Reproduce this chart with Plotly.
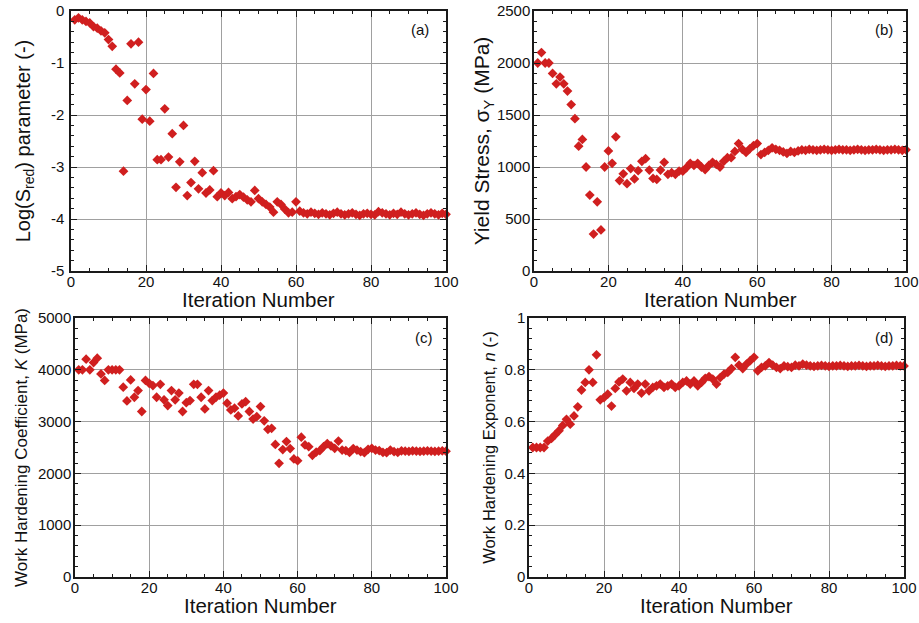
import plotly.graph_objects as go
from plotly.subplots import make_subplots

iterations = list(range(1, 101))

log_s_red = [
    -0.17, -0.13, -0.17, -0.20, -0.23, -0.30, -0.33, -0.38, -0.42, -0.55,
    -0.68, -1.12, -1.19, -3.08, -1.72, -0.63, -1.40, -0.60, -2.08, -1.51,
    -2.12, -1.20, -2.86, -2.86, -1.88, -2.81, -2.36, -3.39, -2.90, -2.20,
    -3.55, -3.30, -2.89, -3.42, -3.11, -3.50, -3.44, -3.07, -3.57, -3.50,
    -3.55, -3.49, -3.61, -3.57, -3.53, -3.58, -3.63, -3.67, -3.45, -3.61,
    -3.67, -3.72, -3.77, -3.87, -3.67, -3.72, -3.81, -3.88, -3.87, -3.67,
    -3.85, -3.88, -3.90, -3.87, -3.89, -3.91, -3.88, -3.90, -3.92, -3.89,
    -3.87, -3.90, -3.92, -3.90, -3.88, -3.91, -3.93, -3.90, -3.89, -3.91,
    -3.92, -3.86, -3.88, -3.90, -3.92, -3.89, -3.91, -3.87, -3.90, -3.92,
    -3.90, -3.88, -3.91, -3.93, -3.90, -3.88, -3.90, -3.92, -3.89, -3.91,
]

yield_stress = [
    2000, 2100, 2000, 2000, 1900, 1800, 1865, 1800, 1730, 1600,
    1465, 1200, 1265, 1000, 730, 355, 665, 395, 1000, 1155,
    1035, 1290, 870, 935, 840, 985, 885, 965, 1055, 1080,
    970, 890, 880, 970, 1045, 930, 945, 930, 960, 960,
    995, 1035, 1015, 1035, 1000, 975, 1015, 1045, 1025, 1000,
    1055, 1090, 1090, 1150, 1225, 1170, 1140, 1175, 1205, 1225,
    1120, 1140, 1160, 1185, 1170, 1160, 1145, 1130, 1150, 1140,
    1155, 1165, 1160, 1170, 1165, 1160, 1165, 1170, 1165, 1160,
    1165, 1170, 1165, 1165, 1160, 1165, 1170, 1165, 1160, 1165,
    1165, 1170, 1165, 1160, 1165, 1165, 1170, 1165, 1160, 1165,
]

k_coeff = [
    4000, 4000, 4205, 4000, 4140, 4225, 3920, 3795, 4000, 4000,
    4000, 4000, 3665, 3400, 3805, 3470, 3600, 3195, 3795, 3740,
    3695, 3470, 3720, 3420, 3310, 3600, 3420, 3550, 3195, 3365,
    3405, 3720, 3720, 3470, 3245, 3600, 3405, 3470, 3510, 3550,
    3355, 3225, 3260, 3110, 3340, 3385, 3195, 3050, 3095, 3290,
    3015, 2850, 2870, 2560, 2195, 2460, 2615, 2480, 2280, 2245,
    2700, 2550, 2515, 2350, 2410, 2440, 2515, 2575, 2530, 2485,
    2625, 2450, 2440, 2405, 2480, 2450, 2420, 2400, 2465, 2485,
    2450, 2440, 2405, 2400, 2450, 2420, 2405, 2435, 2430, 2425,
    2435, 2430, 2425, 2430, 2435, 2430, 2425, 2430, 2435, 2430,
]

n_exponent = [
    0.500, 0.500, 0.500, 0.500, 0.525, 0.535, 0.550, 0.565, 0.585, 0.609,
    0.590, 0.622, 0.657, 0.722, 0.751, 0.800, 0.751, 0.858, 0.684, 0.693,
    0.706, 0.660, 0.728, 0.753, 0.764, 0.719, 0.751, 0.728, 0.745, 0.710,
    0.745, 0.719, 0.732, 0.738, 0.745, 0.732, 0.738, 0.745, 0.732, 0.738,
    0.751, 0.757, 0.745, 0.757, 0.738, 0.751, 0.767, 0.774, 0.764, 0.745,
    0.770, 0.783, 0.790, 0.805, 0.848, 0.818, 0.805, 0.822, 0.835, 0.848,
    0.796, 0.809, 0.815, 0.828, 0.818, 0.809, 0.805, 0.815, 0.812, 0.809,
    0.818, 0.815, 0.822, 0.818, 0.815, 0.813, 0.815, 0.817, 0.815, 0.813,
    0.815, 0.815, 0.817, 0.815, 0.813, 0.815, 0.815, 0.817, 0.815, 0.813,
    0.815, 0.815, 0.817, 0.815, 0.813, 0.815, 0.815, 0.817, 0.815, 0.815,
]

x_ticks = [0, 20, 40, 60, 80, 100]
a_ticks = [0, -1, -2, -3, -4, -5]
a_ticklabels = ["0", "-1", "-2", "-3", "-4", "-5"]
panel_labels = ["(a)", "(b)", "(c)", "(d)"]
y_titles = [
    "Log(S<sub>red</sub>) parameter (-)",
    "Yield Stress, σ<sub>Y</sub> (MPa)",
    "Work Hardening Coefficient, <i>K</i> (MPa)",
    "Work Hardening Exponent, <i>n</i> (-)",
]
x_title = "Iteration Number"

RED = "#d01f1f"
FONT = "Arial, Liberation Sans, sans-serif"
W, H = 919, 623


def fx(px):
    return px / W


def fy(py):
    return 1 - py / H


fig = make_subplots(rows=2, cols=2)

series = [log_s_red, yield_stress, k_coeff, n_exponent]
positions = [(1, 1), (1, 2), (2, 1), (2, 2)]
for s, (r, c) in zip(series, positions):
    fig.add_trace(go.Scatter(
        x=iterations, y=s, mode="markers",
        marker=dict(symbol="diamond", size=7.5, color=RED, line=dict(width=0)),
        cliponaxis=False, showlegend=False,
    ), row=r, col=c)

# domains (pixel-measured in the page)
xdom = [(71, 446), (534, 906), (75, 446), (529, 904)]
ydom = [(11, 271), (11, 271), (318, 577), (318, 577)]
yranges = [[-5, 0], [0, 2500], [0, 5000], [0, 1]]
ydticks = [1, 500, 1000, 0.2]
yminor = [0.2, 100, 200, 0.04]
title_sizes = [20, 21, 17, 16.5]
standoffs = [15, 0, 6, 5]
ylabel_standoff = [2, -1, -1, -1]

axis_common = dict(
    showline=True, linecolor="#1a1a1a", linewidth=1.5, mirror="ticks",
    ticks="inside", ticklen=6, tickwidth=1, tickcolor="#1a1a1a",
    showgrid=True, gridcolor="#a0a0a0", gridwidth=1, zeroline=False,
    automargin=False, ticklabeloverflow="allow",
    tickfont=dict(family=FONT, size=15, color="#111"),
)

for idx in range(4):
    xa = "xaxis" if idx == 0 else f"xaxis{idx+1}"
    ya = "yaxis" if idx == 0 else f"yaxis{idx+1}"
    x0, x1 = xdom[idx]
    t, b = ydom[idx]
    fig.layout[xa].update(
        domain=[fx(x0), fx(x1)], range=[0, 100], tickvals=x_ticks,
        ticklabelstandoff=-4,
        minor=dict(dtick=5, ticks="inside", ticklen=3, tickcolor="#1a1a1a", showgrid=False),
        **axis_common,
    )
    yopts = dict(
        domain=[fy(b), fy(t)], range=yranges[idx],
        ticklabelstandoff=ylabel_standoff[idx],
        minor=dict(dtick=yminor[idx], ticks="inside", ticklen=3, tickcolor="#1a1a1a", showgrid=False),
        title=dict(text=y_titles[idx], font=dict(family=FONT, size=title_sizes[idx], color="#111"),
                   standoff=standoffs[idx]),
        **axis_common,
    )
    if idx == 0:
        yopts.update(tickmode="array", tickvals=a_ticks, ticktext=a_ticklabels)
    else:
        yopts.update(dtick=ydticks[idx], tick0=0)
    fig.layout[ya].update(**yopts)

    # x-axis title placed just under the tick labels
    fig.add_annotation(x=fx((x0 + x1) / 2), y=fy(b + 28), xref="paper", yref="paper",
                       text=x_title, showarrow=False,
                       font=dict(family=FONT, size=20.5, color="#111"),
                       xanchor="center", yanchor="middle")

label_pos = [(420, 30), (884, 30), (424, 337), (884, 337)]
for lab, (px, py) in zip(panel_labels, label_pos):
    fig.add_annotation(x=fx(px), y=fy(py), xref="paper", yref="paper",
                       text=lab, showarrow=False,
                       font=dict(family=FONT, size=15, color="#111"),
                       xanchor="center", yanchor="middle")

fig.update_layout(
    width=W, height=H, margin=dict(l=0, r=0, t=0, b=0),
    paper_bgcolor="white", plot_bgcolor="white",
    font=dict(family=FONT),
)

fig.write_html("out.html", config={"displayModeBar": False},
               post_script="document.body.style.margin='0';")
